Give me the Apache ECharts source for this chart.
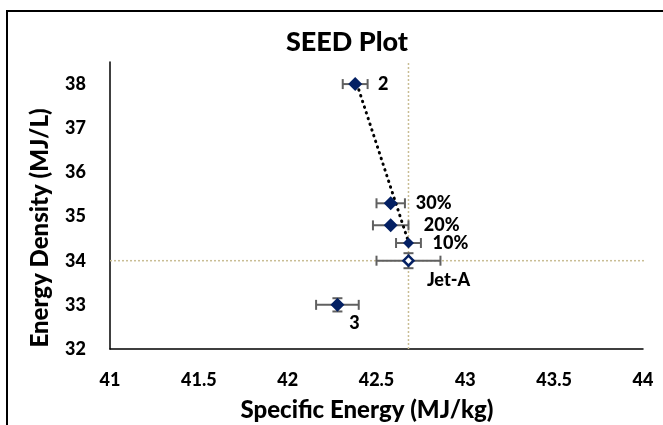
<!DOCTYPE html>
<html>
<head>
<meta charset="utf-8">
<script src="https://cdn.jsdelivr.net/npm/echarts@6/dist/echarts.min.js"></script>
<style>
  html, body { margin: 0; padding: 0; background: #fff; }
  #chart { width: 663px; height: 425px; }
</style>
</head>
<body>
<div id="chart"></div>
<script>
// fuel blends: specific energy (MJ/kg) vs energy density (MJ/L)
const names = ["2", "30%", "20%", "10%", "Jet-A", "3"];
const specificEnergy = [42.38, 42.58, 42.58, 42.68, 42.68, 42.28];
const energyDensity = [38.0, 35.3, 34.8, 34.4, 34.0, 33.0];
const xErr = [0.07, 0.08, 0.1, 0.07, 0.18, 0.12];
const yErr = [0, 0, 0, 0, 0.17, 0.15];
// dotted trend line through the blends
const trendX = [42.39, 42.69];
const trendY = [38.0, 34.3];
// Jet-A reference lines
const refX = 42.68;
const refY = 34.0;

const font = "Lato, 'Open Sans', sans-serif";
const navy = "#042063";
const heavy = 900;

// label offsets (px) relative to marker
const labelOffset = {
  "2": [28, 0], "30%": [43, 0], "20%": [51, 0],
  "10%": [42, 0], "Jet-A": [40, 19], "3": [17, 18]
};

const points = names.map((n, i) => {
  const item = {
    name: n,
    value: [specificEnergy[i], energyDensity[i]],
    label: { offset: labelOffset[n] }
  };
  if (n === "Jet-A") {
    item.symbolSize = 10;
    item.itemStyle = { color: "#fff", borderColor: navy, borderWidth: 2.5, opacity: 1 };
  } else if (n === "10%") {
    item.symbolSize = 11;
  }
  return item;
});

const errData = names.map((n, i) => [specificEnergy[i], energyDensity[i], xErr[i], yErr[i]]);

let chart = echarts.init(document.getElementById("chart"));
chart.setOption({
  animation: false,
  textStyle: { fontFamily: font },
  title: {
    text: "SEED Plot",
    left: 342,
    top: 24,
    textAlign: "center",
    textStyle: { fontSize: 27, fontWeight: heavy, color: "#000", fontFamily: font }
  },
  graphic: [
    {
      type: "polyline",
      shape: { points: [[7, 440], [7, 11], [680, 11]] },
      style: { stroke: "#000", lineWidth: 2, fill: null }
    },
    {
      type: "text",
      x: 367,
      y: 410,
      style: {
        text: "Specific Energy (MJ/kg)",
        align: "center", verticalAlign: "middle",
        font: heavy + " 24px " + font, fill: "#000"
      }
    },
    {
      type: "text",
      x: 40,
      y: 228,
      rotation: Math.PI / 2,
      style: {
        text: "Energy Density (MJ/L)",
        align: "center", verticalAlign: "middle",
        font: heavy + " 24px " + font, fill: "#000"
      }
    }
  ],
  grid: { left: 110, right: 20, top: 62, bottom: 76 },
  xAxis: {
    type: "value",
    min: 41,
    max: 44,
    interval: 0.5,
    axisLine: { show: true, lineStyle: { color: "#000", width: 1.5 } },
    axisTick: { show: false },
    splitLine: { show: false },
    axisLabel: { fontSize: 18, fontWeight: heavy, color: "#000", margin: 22, fontFamily: font }
  },
  yAxis: {
    type: "value",
    min: 32,
    max: 38.5,
    interval: 1,
    axisLine: { show: true, lineStyle: { color: "#000", width: 1.5 } },
    axisTick: { show: false },
    splitLine: { show: false },
    axisLabel: {
      fontSize: 18, fontWeight: heavy, color: "#000", margin: 24, fontFamily: font,
      formatter: v => (Number.isInteger(v) ? String(v) : "")
    }
  },
  series: [
    {
      type: "line",
      data: [[refX, 32], [refX, 38.5]],
      symbol: "none",
      silent: true,
      lineStyle: { color: "#c9bd94", width: 1.5, type: [2, 2] },
      z: 1
    },
    {
      type: "line",
      data: [[41, refY], [44.12, refY]],
      symbol: "none",
      silent: true,
      clip: false,
      lineStyle: { color: "#c9bd94", width: 1.5, type: [2, 2] },
      z: 1
    },
    {
      type: "line",
      data: trendX.map((x, i) => [x, trendY[i]]),
      symbol: "none",
      silent: true,
      lineStyle: { color: "#000", width: 3, type: [0.5, 5.5], cap: "round" },
      z: 3
    },
    {
      type: "custom",
      data: errData,
      z: 2,
      renderItem: function (params, api) {
        const x = api.value(0), y = api.value(1), ex = api.value(2), ey = api.value(3);
        const left = api.coord([x - ex, y]);
        const right = api.coord([x + ex, y]);
        const cap = 5;
        const st = { stroke: "#606060", lineWidth: 2 };
        const kids = [
          { type: "line", shape: { x1: left[0], y1: left[1], x2: right[0], y2: right[1] }, style: st },
          { type: "line", shape: { x1: left[0], y1: left[1] - cap, x2: left[0], y2: left[1] + cap }, style: st },
          { type: "line", shape: { x1: right[0], y1: right[1] - cap, x2: right[0], y2: right[1] + cap }, style: st }
        ];
        if (ey > 0) {
          const top = api.coord([x, y + ey]);
          const bot = api.coord([x, y - ey]);
          kids.push(
            { type: "line", shape: { x1: top[0], y1: top[1], x2: bot[0], y2: bot[1] }, style: st },
            { type: "line", shape: { x1: top[0] - cap, y1: top[1], x2: top[0] + cap, y2: top[1] }, style: st },
            { type: "line", shape: { x1: bot[0] - cap, y1: bot[1], x2: bot[0] + cap, y2: bot[1] }, style: st }
          );
        }
        return { type: "group", children: kids };
      }
    },
    {
      type: "scatter",
      data: points,
      symbol: "diamond",
      symbolSize: 14,
      itemStyle: { color: navy, opacity: 1 },
      z: 4,
      label: {
        show: true,
        position: "inside",
        formatter: p => p.name,
        fontSize: 18,
        fontWeight: heavy,
        color: "#000",
        textBorderWidth: 0,
        fontFamily: font
      }
    }
  ]
});
</script>
</body>
</html>
